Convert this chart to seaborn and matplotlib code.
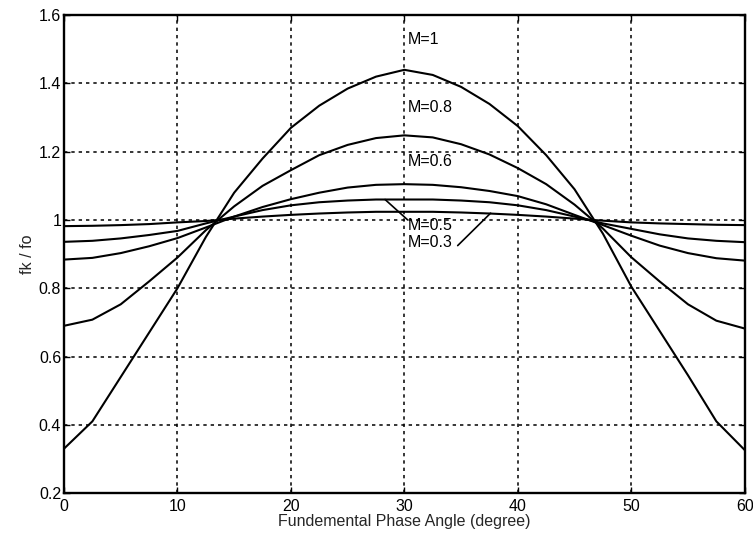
import numpy as np
import pandas as pd
import matplotlib
matplotlib.use("Agg")
import matplotlib.pyplot as plt
import seaborn as sns

angle = [0, 2.5, 5, 7.5, 10, 12.5, 15, 17.5, 20, 22.5, 25, 27.5, 30,
         32.5, 35, 37.5, 40, 42.5, 45, 47.5, 50, 52.5, 55, 57.5, 60]

m10 = [0.33, 0.41, 0.54, 0.67, 0.80, 0.95, 1.08, 1.18, 1.27, 1.335, 1.385, 1.42, 1.44,
       1.425, 1.39, 1.34, 1.275, 1.19, 1.09, 0.96, 0.805, 0.675, 0.545, 0.41, 0.326]
m08 = [0.69, 0.708, 0.753, 0.82, 0.89, 0.97, 1.04, 1.10, 1.146, 1.19, 1.22, 1.24, 1.248,
       1.242, 1.222, 1.192, 1.152, 1.105, 1.045, 0.975, 0.891, 0.82, 0.753, 0.705, 0.682]
m06 = [0.884, 0.889, 0.903, 0.923, 0.947, 0.978, 1.01, 1.038, 1.061, 1.08, 1.095, 1.103, 1.105,
       1.103, 1.096, 1.085, 1.07, 1.046, 1.015, 0.985, 0.954, 0.925, 0.903, 0.888, 0.881]
m05 = [0.936, 0.939, 0.946, 0.956, 0.968, 0.99, 1.01, 1.029, 1.043, 1.052, 1.057, 1.06, 1.06,
       1.06, 1.057, 1.052, 1.043, 1.029, 1.01, 0.99, 0.974, 0.958, 0.946, 0.939, 0.935]
m03 = [0.982, 0.983, 0.985, 0.988, 0.993, 0.997, 1.004, 1.01, 1.015, 1.019, 1.022, 1.024, 1.024,
       1.024, 1.022, 1.019, 1.015, 1.01, 1.004, 0.998, 0.993, 0.99, 0.988, 0.986, 0.985]

series_names = ["M=1", "M=0.8", "M=0.6", "M=0.5", "M=0.3"]
series_vals = [m10, m08, m06, m05, m03]

xticks = [0, 10, 20, 30, 40, 50, 60]
yticks = [0.2, 0.4, 0.6, 0.8, 1.0, 1.2, 1.4, 1.6]
ytick_labels = ["0.2", "0.4", "0.6", "0.8", "1", "1.2", "1.4", "1.6"]

df = pd.concat([pd.DataFrame({"angle": angle, "ratio": v, "M": n})
                for n, v in zip(series_names, series_vals)], ignore_index=True)

sns.set_theme(style="white")
plt.rcParams["font.family"] = ["Liberation Sans", "DejaVu Sans"]

fig = plt.figure(figsize=(7.53, 5.43), dpi=100)
ax = fig.add_axes([0.085, 0.092, 0.904, 0.880])

sns.lineplot(data=df, x="angle", y="ratio", hue="M", palette=["black"] * 5,
             linewidth=1.5, legend=False, ax=ax, sort=False)

ax.set_xlim(0, 60)
ax.set_ylim(0.2, 1.6)
ax.set_xticks(xticks)
ax.set_yticks(yticks)
ax.set_yticklabels(ytick_labels)
ax.grid(True, color="black", linestyle=(0, (2.2, 2.6)), linewidth=1.1)
ax.tick_params(direction="in", length=4, width=1, labelsize=11.5, colors="black",
               top=True, right=True, bottom=True, left=True, pad=2)
ax.tick_params(axis="x", pad=4)
for s in ax.spines.values():
    s.set_color("black")
    s.set_linewidth(1.7)

ax.set_xlabel("Fundemental Phase Angle (degree)", fontsize=11.5, labelpad=0)
ax.set_ylabel("fk / fo", fontsize=11.5, labelpad=3)

tkw = dict(fontsize=11.5, color="black", ha="left", va="center")
ax.text(30.3, 1.53, "M=1", **tkw)
ax.text(30.3, 1.33, "M=0.8", **tkw)
ax.text(30.3, 1.17, "M=0.6", **tkw)
ax.text(30.3, 0.985, "M=0.5", **tkw)
ax.text(30.3, 0.935, "M=0.3", **tkw)
ax.plot([28.3, 30.3], [1.06, 1.0], color="black", linewidth=1.2)
ax.plot([34.7, 37.6], [0.925, 1.02], color="black", linewidth=1.2)

fig.savefig("out.png", dpi=100)
